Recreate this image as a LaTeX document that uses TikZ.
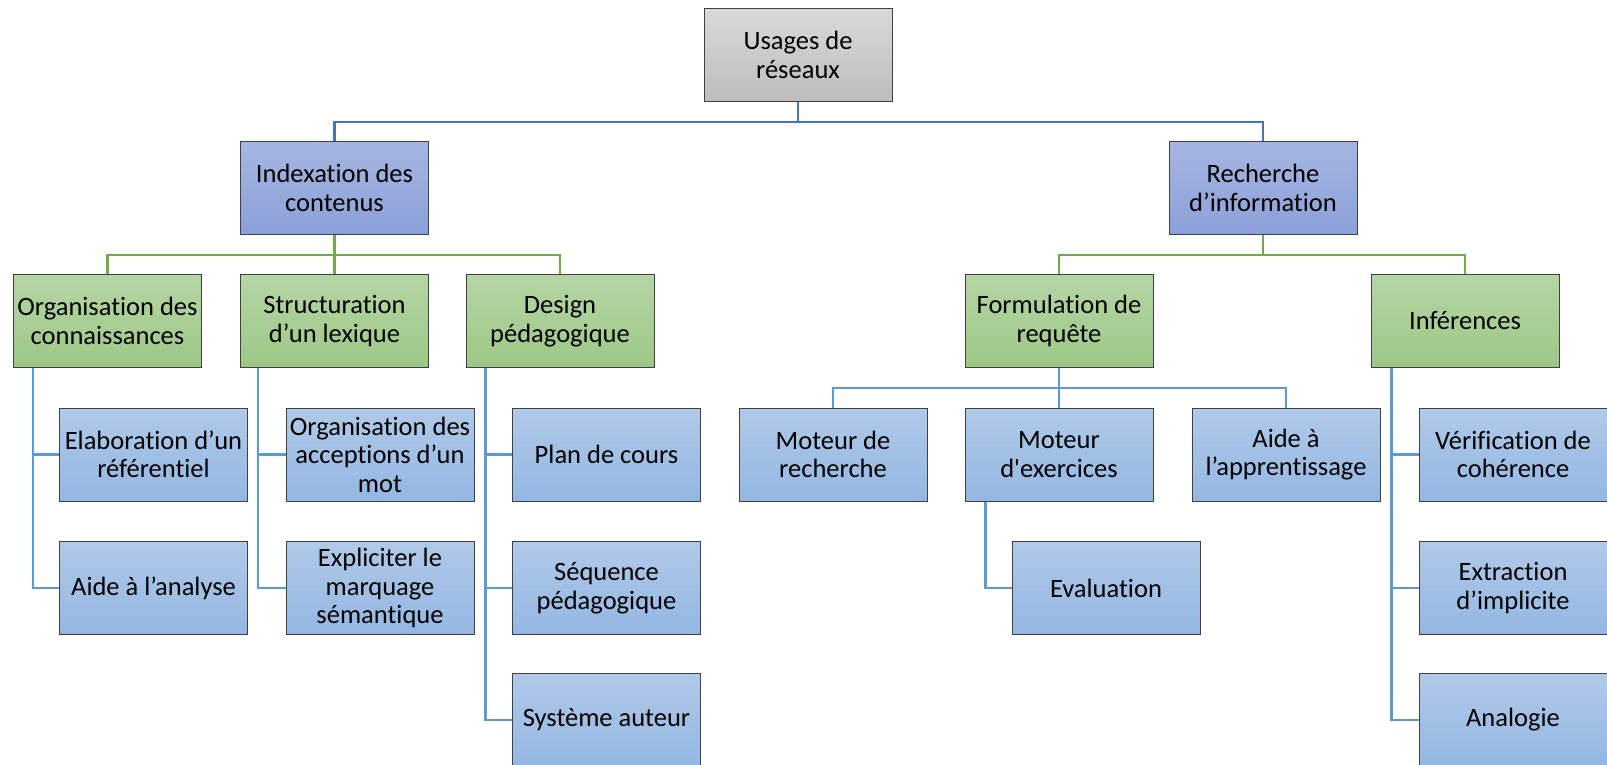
\documentclass[tikz,border=0pt]{standalone}
\usepackage{fontspec}
\setmainfont{Carlito}[Ligatures={TeX,NoCommon}]
\usetikzlibrary{calc}
\definecolor{lineA}{HTML}{4472C4}
\definecolor{lineG}{HTML}{70AD47}
\definecolor{lineB}{HTML}{5B9BD5}
\definecolor{bordc}{HTML}{404040}
\definecolor{HTML-A6B6E1}{HTML}{A6B6E1}
\definecolor{HTML-8AA0D8}{HTML}{8AA0D8}
\definecolor{HTML-B5D5A5}{HTML}{B5D5A5}
\definecolor{HTML-9CC885}{HTML}{9CC885}
\definecolor{HTML-B0C9E8}{HTML}{B0C9E8}
\definecolor{HTML-93B7E2}{HTML}{93B7E2}
\tikzset{
  box/.style={draw=bordc, line width=1pt, minimum width=188pt, minimum height=93pt,
    inner sep=0pt, align=center, font=\fontsize{26.5}{28.5}\selectfont, text=black},
  rootbox/.style={box, top color=black!15, bottom color=black!26},
  lvlone/.style={box, top color=HTML-A6B6E1, bottom color=HTML-8AA0D8},
  lvltwo/.style={box, top color=HTML-B5D5A5, bottom color=HTML-9CC885},
  leaf/.style={box, top color=HTML-B0C9E8, bottom color=HTML-93B7E2},
  linkA/.style={draw=lineA, line width=2.4pt},
  linkG/.style={draw=lineG, line width=2.4pt},
  linkB/.style={draw=lineB, line width=2.4pt},
}
\begin{document}
\begin{tikzpicture}[x=1pt,y=-1pt]
\useasboundingbox (0,0) rectangle (1607,765);
% junctions
\coordinate (j1) at (798,122);
\coordinate (j2) at (334.5,255);
\coordinate (j3) at (1263,255);
\coordinate (j4) at (1059,388);
% nodes
\node[rootbox] (root) at (798,55) {Usages de\\réseaux};
\node[lvlone] (idx) at (334.5,188) {Indexation des\\contenus};
\node[lvlone] (rech) at (1263,188) {Recherche\\d’information};
\node[lvltwo] (org) at (107.5,321) {Organisation des\\connaissances};
\node[lvltwo] (struct) at (334.5,321) {Structuration\\d’un lexique};
\node[lvltwo] (design) at (560,321) {Design\\pédagogique};
\node[lvltwo] (formu) at (1059,321) {Formulation de\\requête};
\node[lvltwo] (inf) at (1465,321) {Inférences};
\node[leaf] (elab) at (153.5,454.5) {Elaboration d’un\\référentiel};
\node[leaf] (aide) at (153.5,588) {Aide à l’analyse};
\node[leaf] (accep) at (380,454.5) {Organisation des\\acceptions d’un\\mot};
\node[leaf] (expl) at (380,588) {Expliciter le\\marquage\\sémantique};
\node[leaf] (plan) at (606.5,454.5) {Plan de cours};
\node[leaf] (seq) at (606.5,588) {Séquence\\pédagogique};
\node[leaf] (sys) at (606.5,720) {Système auteur};
\node[leaf] (motrech) at (833,454.5) {Moteur de\\recherche};
\node[leaf] (motex) at (1059,454.5) {Moteur\\d\textquotesingle exercices};
\node[leaf] (aideapp) at (1286,454.5) {Aide à\\l’apprentissage};
\node[leaf] (eval) at (1106,588) {Evaluation};
\node[leaf] (verif) at (1513,454.5) {Vérification de\\cohérence};
\node[leaf] (extr) at (1513,588) {Extraction\\d’implicite};
\node[leaf] (analog) at (1513,720) {Analogie};
% tree connectors
\draw[linkA] (root.south) -- (j1) -| (idx.north);
\draw[linkA] (j1) -| (rech.north);
\draw[linkG] (idx.south) -- (j2) -| (org.north);
\draw[linkG] (j2) -| (design.north);
\draw[linkG] (j2) -- (struct.north);
\draw[linkG] (rech.south) -- (j3) -| (formu.north);
\draw[linkG] (j3) -| (inf.north);
\draw[linkB] (formu.south) -- (j4) -| (motrech.north);
\draw[linkB] (j4) -| (aideapp.north);
\draw[linkB] (j4) -- (motex.north);
% side connectors
\draw[linkB] ([xshift=20pt]org.south west) |- (aide.west);
\draw[linkB] ([xshift=20pt]org.south west) |- (elab.west);
\draw[linkB] ([xshift=18pt]struct.south west) |- (expl.west);
\draw[linkB] ([xshift=18pt]struct.south west) |- (accep.west);
\draw[linkB] ([xshift=20pt]design.south west) |- (sys.west);
\draw[linkB] ([xshift=20pt]design.south west) |- (seq.west);
\draw[linkB] ([xshift=20pt]design.south west) |- (plan.west);
\draw[linkB] ([xshift=21pt]motex.south west) |- (eval.west);
\draw[linkB] ([xshift=21pt]inf.south west) |- (analog.west);
\draw[linkB] ([xshift=21pt]inf.south west) |- (extr.west);
\draw[linkB] ([xshift=21pt]inf.south west) |- (verif.west);
\end{tikzpicture}
\end{document}
